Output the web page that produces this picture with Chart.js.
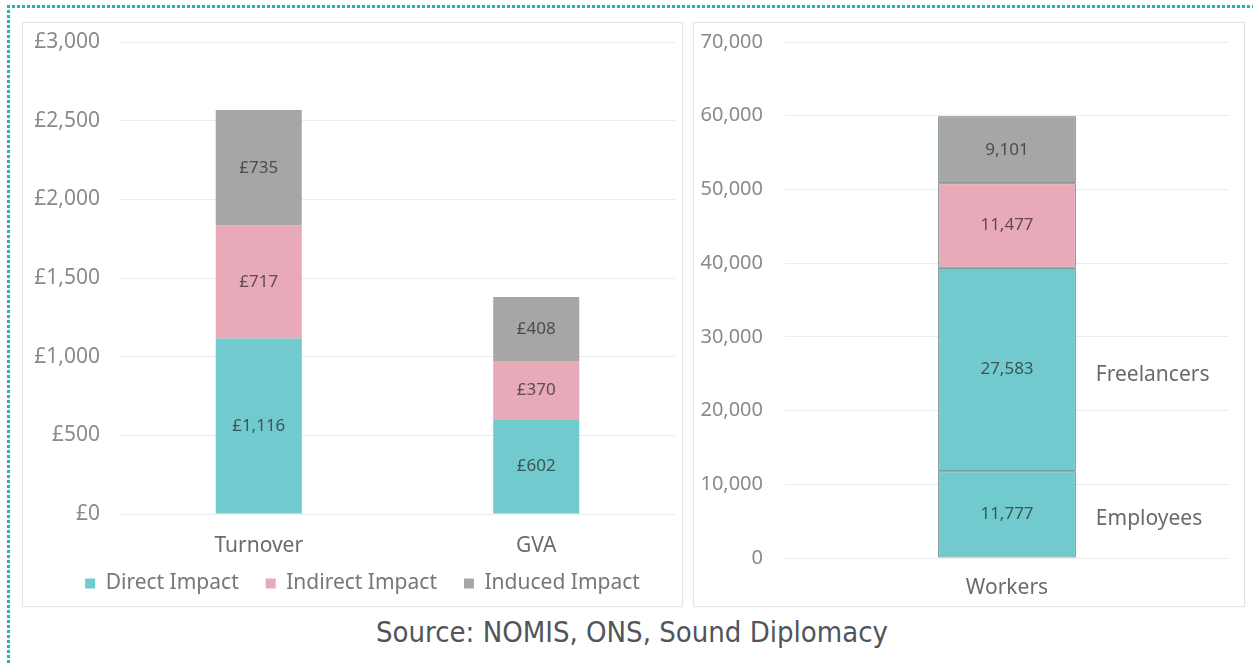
<!DOCTYPE html>
<html>
<head>
<meta charset="utf-8">
<script src="https://cdn.jsdelivr.net/npm/chart.js@4.4.1/dist/chart.umd.min.js"></script>
<style>
  body { margin: 0; width: 1253px; height: 665px; background: #fff; position: relative; overflow: hidden; }
  .dots-top { position: absolute; left: 7px; top: 5px; width: 1250px; height: 3px;
    background: repeating-linear-gradient(90deg, #1fb6b6 0 3px, transparent 3px 5px); }
  .dots-left { position: absolute; left: 7px; top: 5px; width: 3px; height: 665px;
    background: repeating-linear-gradient(180deg, #1fb6b6 0 3px, transparent 3px 5px); }
  .panel { position: absolute; box-sizing: border-box; border: 1px solid #e4e4e4;
    box-shadow: 0 0 2px rgba(0,0,0,0.06); }
  canvas { position: absolute; }
  .source { position: absolute; left: 7px; width: 1250px; top: 615px; text-align: center;
    font-family: "DejaVu Sans Condensed", "DejaVu Sans", sans-serif; font-size: 29px; color: #50555b; }
</style>
</head>
<body>
<div class="dots-top"></div>
<div class="dots-left"></div>
<div class="panel" style="left:22px;top:22px;width:661px;height:585px"></div>
<div class="panel" style="left:693px;top:22px;width:552px;height:585px"></div>
<canvas id="impactChart" width="661" height="585" style="left:22px;top:22px"></canvas>
<canvas id="workersChart" width="552" height="585" style="left:693px;top:22px"></canvas>
<div class="source">Source: NOMIS, ONS, Sound Diplomacy</div>

<script>
// impact chart (£m)
const impactCategories = ['Turnover', 'GVA'];
const directImpact = [1116, 602];
const indirectImpact = [717, 370];
const inducedImpact = [735, 408];

// workers chart
const workerCategories = ['Workers'];
const employees = [11777];
const freelancers = [27583];
const workersIndirect = [11477];
const workersInduced = [9101];

const TEAL = '#71cacd';
const PINK = '#e8a9b9';
const GREY = '#a6a6a6';
const FONT = '"Noto Sans", Roboto, sans-serif';

const fmt = (v) => v.toLocaleString('en-GB');

// value text in the middle of each stacked segment
const segmentLabels = {
    id: 'segmentLabels',
    afterDatasetsDraw(chart, args, opts) {
        const ctx = chart.ctx;
        ctx.save();
        ctx.font = '17px ' + FONT;
        ctx.fillStyle = 'rgba(40,40,40,0.72)';
        ctx.textAlign = 'center';
        ctx.textBaseline = 'middle';
        chart.data.datasets.forEach((ds, i) => {
            chart.getDatasetMeta(i).data.forEach((bar, j) => {
                const y = (bar.y + bar.base) / 2;
                ctx.fillText(opts.prefix + fmt(ds.data[j]), bar.x, y);
                if (ds.sideLabel) {
                    ctx.save();
                    ctx.textAlign = 'left';
                    ctx.fillStyle = '#6a6a6a';
                    ctx.font = '21px ' + FONT;
                    ctx.fillText(ds.label, bar.x + bar.width / 2 + 20, y + 5);
                    ctx.restore();
                }
            });
        });
        ctx.restore();
    },
};

// legend: wide gaps between items but a compact row, nudged into place
const legendPlace = {
    id: 'legendPlace',
    beforeInit(chart) {
        const fit = chart.legend.fit;
        chart.legend.fit = function () {
            fit.call(this);
            this.height = 47;
        };
    },
    afterLayout(chart) {
        const lg = chart.legend;
        lg.top -= 14;
        lg.left += 14;
        lg.right += 14;
    },
};

const gridOpts = { color: '#ececec', lineWidth: 1, drawTicks: false };

// y-axis box of fixed width, without the extra top/bottom room for tick padding
const fixYAxis = (w) => (scale) => {
    scale.width = w;
    scale.paddingTop = 12;
    scale.paddingBottom = 12;
};

new Chart(document.getElementById('impactChart'), {
    type: 'bar',
    data: {
        labels: impactCategories,
        datasets: [
            { label: 'Direct Impact', data: directImpact, backgroundColor: TEAL },
            { label: 'Indirect Impact', data: indirectImpact, backgroundColor: PINK },
            { label: 'Induced Impact', data: inducedImpact, backgroundColor: GREY },
        ],
    },
    options: {
        responsive: false,
        animation: false,
        categoryPercentage: 1,
        barPercentage: 0.31,
        layout: { padding: { top: 20, right: 8, left: 0, bottom: 0 } },
        scales: {
            x: {
                stacked: true,
                grid: { display: false, drawTicks: false },
                border: { display: false },
                ticks: { color: '#6b6b6b', font: { family: FONT, size: 21 }, padding: 19 },
                afterFit(scale) { scale.height = 46; },
            },
            y: {
                stacked: true,
                min: 0,
                max: 3000,
                grid: gridOpts,
                border: { display: false },
                ticks: {
                    stepSize: 500,
                    padding: 20,
                    color: '#8a8a8a',
                    font: { family: FONT, size: 21 },
                    callback: (v) => '£' + fmt(v),
                },
                afterFit: fixYAxis(98),
            },
        },
        plugins: {
            tooltip: { enabled: false },
            legend: {
                position: 'bottom',
                labels: {
                    boxWidth: 10,
                    boxHeight: 10,
                    color: '#777',
                    font: { family: FONT, size: 21 },
                    padding: 27,
                },
            },
            segmentLabels: { prefix: '£' },
        },
    },
    plugins: [segmentLabels, legendPlace],
});

const BORDER = '#56706f';

new Chart(document.getElementById('workersChart'), {
    type: 'bar',
    data: {
        labels: workerCategories,
        datasets: [
            { label: 'Employees', data: employees, backgroundColor: TEAL, sideLabel: true },
            { label: 'Freelancers', data: freelancers, backgroundColor: TEAL, sideLabel: true },
            { label: 'Indirect', data: workersIndirect, backgroundColor: PINK },
            { label: 'Induced', data: workersInduced, backgroundColor: GREY },
        ].map((ds) => Object.assign(ds, { borderColor: BORDER, borderWidth: 1, borderSkipped: false })),
    },
    options: {
        responsive: false,
        animation: false,
        categoryPercentage: 1,
        barPercentage: 0.31,
        layout: { padding: { top: 20, right: 16, left: 0, bottom: 5 } },
        scales: {
            x: {
                stacked: true,
                grid: { display: false, drawTicks: false },
                border: { display: false },
                ticks: { color: '#6b6b6b', font: { family: FONT, size: 21 }, padding: 17 },
                afterFit(scale) { scale.height = 44; },
            },
            y: {
                stacked: true,
                min: 0,
                max: 70000,
                grid: gridOpts,
                border: { display: false },
                ticks: {
                    stepSize: 10000,
                    padding: 22,
                    color: '#8a8a8a',
                    font: { family: FONT, size: 20 },
                    callback: (v) => fmt(v),
                },
                afterFit: fixYAxis(92),
            },
        },
        plugins: {
            tooltip: { enabled: false },
            legend: { display: false },
            segmentLabels: { prefix: '' },
        },
    },
    plugins: [segmentLabels],
});
</script>
</body>
</html>
